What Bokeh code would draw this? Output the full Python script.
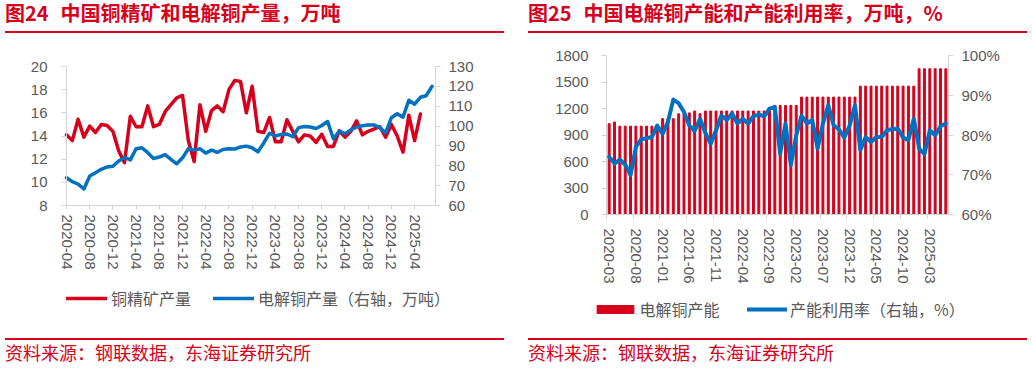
from bokeh.plotting import figure
from bokeh.models import (Range1d, LinearAxis, FixedTicker, Legend, LegendItem, Div,
                          PrintfTickFormatter)
from bokeh.layouts import row, column
from bokeh.embed import file_html
from bokeh.resources import INLINE

RED = "#d6001c"
BLUE = "#0070c0"
TXT = "#595959"
AXC = "#d4d4d4"
CJK = "Noto Sans CJK SC"
NUMF = "Liberation Sans"

# ---------------- data: chart 24 (monthly from 2020-04) ----------------
left_tick_labels = ["2020-04", "2020-08", "2020-12", "2021-04", "2021-08", "2021-12",
                    "2022-04", "2022-08", "2022-12", "2023-04", "2023-08", "2023-12",
                    "2024-04", "2024-08", "2024-12", "2025-04"]
concentrate_output = [14.1, 13.6, 15.45, 13.9, 14.85, 14.3, 15.0, 14.9, 14.4, 12.7,
                      11.7, 15.7, 14.8, 14.8, 16.6, 14.8, 15.0, 16.1, 16.7, 17.3,
                      17.5, 13.6, 11.8, 16.7, 14.4, 16.2, 16.6, 16.1, 18.0, 18.8,
                      18.7, 16.0, 18.3, 14.4, 14.3, 15.6, 13.5, 13.5, 15.4, 14.4,
                      13.5, 14.1, 14.0, 13.45, 14.15, 13.1, 13.1, 14.45, 13.9, 14.4,
                      15.3, 14.1, 14.4, 14.6, 14.8, 13.9, 15.0, 14.0, 12.6, 15.8,
                      13.6, 15.9]
cathode_output = [74.0, 72.0, 70.8, 68.3, 74.8, 76.5, 78.2, 79.4, 79.8, 82.4,
                  84.2, 83.0, 88.6, 89.1, 86.6, 83.7, 84.4, 85.6, 83.2, 81.0,
                  84.0, 88.6, 87.9, 88.6, 86.4, 87.9, 86.8, 88.2, 88.6, 88.4,
                  89.5, 89.9, 89.1, 87.0, 91.5, 96.4, 95.0, 95.8, 96.0, 94.6,
                  99.2, 99.8, 99.5, 98.8, 100.3, 102.3, 93.6, 97.4, 96.2, 98.0,
                  99.5, 100.2, 100.5, 100.6, 99.2, 96.6, 104.2, 106.2, 104.5, 113.0,
                  111.0, 114.5, 115.3, 120.0]

# ---------------- data: chart 25 (monthly from 2020-03) ----------------
right_tick_labels = ["2020-03", "2020-08", "2021-01", "2021-06", "2021-11", "2022-04",
                     "2022-09", "2023-02", "2023-07", "2023-12", "2024-05", "2024-10",
                     "2025-03"]
capacity = [1028, 1047, 1000, 1000, 1000, 1000, 1000, 1000, 1000, 1000,
            1085, 1085, 1085, 1140, 1140, 1150, 1171, 1141, 1171, 1171,
            1171, 1171, 1171, 1171, 1171, 1171, 1171, 1171, 1171, 1171,
            1171, 1235, 1235, 1235, 1235, 1235, 1329, 1329, 1329, 1329,
            1329, 1329, 1329, 1329, 1329, 1329, 1329, 1453, 1453, 1453,
            1453, 1453, 1453, 1453, 1453, 1453, 1453, 1453, 1650, 1650,
            1650, 1650, 1650, 1650]
utilization = [74.5, 72.8, 73.8, 72.6, 69.9, 77.0, 78.9, 79.2, 79.5, 82.4,
               80.3, 83.3, 88.9, 88.0, 85.8, 82.4, 81.0, 84.1, 80.5, 77.8,
               81.2, 84.9, 83.8, 85.4, 82.9, 84.1, 82.9, 84.7, 85.2, 84.7,
               86.6, 87.0, 75.3, 82.9, 72.4, 79.9, 84.9, 82.9, 83.8, 76.6,
               82.9, 87.5, 82.4, 81.4, 79.3, 82.4, 87.5, 76.2, 79.5, 78.2,
               79.5, 79.5, 81.2, 81.5, 81.6, 79.4, 78.7, 84.1, 76.6, 75.2,
               81.2, 79.9, 82.2, 82.9]

FIG_H = 302  # chart canvas height (page y 34 .. 336)


def span_range(lo, hi, px_lo, px_hi, size, flip=False):
    """Range whose [lo, hi] maps onto canvas pixels [px_lo, px_hi] of a canvas of `size`."""
    k = (hi - lo) / (px_hi - px_lo)
    if flip:  # vertical: px measured from the top
        return Range1d(lo - (size - px_hi) * k, hi + px_lo * k)
    return Range1d(lo - px_lo * k, hi + (size - px_hi) * k)


def style_axis(ax, standoff, tick_out=5):
    ax.axis_line_color = AXC
    ax.major_tick_line_color = AXC
    ax.minor_tick_line_color = None
    ax.major_tick_in = 0
    ax.major_tick_out = tick_out
    ax.major_label_text_font = NUMF
    ax.major_label_text_font_size = "15px"
    ax.major_label_text_color = TXT
    ax.major_label_standoff = standoff


def chart_fig(w, xr, yr):
    p = figure(width=w, height=FIG_H, x_range=xr, y_range=yr, output_backend="svg",
               toolbar_location=None, tools="", min_border=0,
               x_axis_location=None, y_axis_location=None)
    p.outline_line_color = None
    p.xgrid.visible = False
    p.ygrid.visible = False
    p.background_fill_color = "white"
    p.border_fill_color = "white"
    return p


def make_legend(items, loc, gw, gh, standoff, spacing=0):
    return Legend(items=items, orientation="horizontal", location=loc, glyph_width=gw,
                  glyph_height=gh, label_height=gh, label_standoff=standoff, spacing=spacing,
                  padding=0, margin=0, border_line_color=None, background_fill_alpha=0,
                  label_text_font=CJK, label_text_font_size="16px", label_text_color=TXT)


def title_div(w, num, txt, left, rule_left, rule_w):
    html = (f'<div style="position:relative;width:{w}px;height:34px;">'
            f'<div style="position:absolute;left:{left}px;top:3px;white-space:nowrap;'
            f'font-family:\'{CJK}\';font-weight:bold;font-size:20px;line-height:20px;color:{RED};">'
            f'{num}<span style="margin-left:12px">{txt}</span></div>'
            f'<div style="position:absolute;left:{rule_left}px;top:31px;width:{rule_w}px;height:2px;'
            f'background:{RED};"></div></div>')
    return Div(text=html, width=w, height=34, margin=(0, 0, 0, 0))


def footer_div(w, left, rule_left, rule_w):
    html = (f'<div style="position:relative;width:{w}px;height:32px;">'
            f'<div style="position:absolute;left:{rule_left}px;top:2px;width:{rule_w}px;height:2px;'
            f'background:{RED};"></div>'
            f'<div style="position:absolute;left:{left}px;top:7px;white-space:nowrap;'
            f'font-family:\'{CJK}\';font-size:18px;line-height:18px;color:{RED};">'
            f'资料来源：钢联数据，东海证券研究所</div></div>')
    return Div(text=html, width=w, height=32, margin=(0, 0, 0, 0))


# ---------------- chart 24 ----------------
W1 = 520
X1 = (0, 63.6)          # month index span of the plot area
F1 = (66, 435, 32, 171)  # plot-area pixels: left, right, top, bottom (canvas coords)
p1 = chart_fig(W1, span_range(X1[0], X1[1], F1[0], F1[1], W1),
               span_range(8, 20, F1[2], F1[3], FIG_H, flip=True))
p1.extra_y_ranges = {"r": span_range(60, 130, F1[2], F1[3], FIG_H, flip=True)}

ax_l1 = LinearAxis(ticker=FixedTicker(ticks=list(range(8, 21, 2))), fixed_location=X1[0],
                   bounds=(8, 20))
ax_r1 = LinearAxis(y_range_name="r", ticker=FixedTicker(ticks=list(range(60, 131, 10))),
                   fixed_location=X1[1], bounds=(60, 130))
xt1 = list(range(0, 61, 4))
ax_b1 = LinearAxis(ticker=FixedTicker(ticks=xt1), fixed_location=8, bounds=X1,
                   major_label_overrides={t: lab for t, lab in zip(xt1, left_tick_labels)},
                   major_label_orientation="vertical")
style_axis(ax_l1, 14)
style_axis(ax_r1, 8)
style_axis(ax_b1, 5, tick_out=4)
p1.add_layout(ax_l1, "left")
p1.add_layout(ax_r1, "right")
p1.add_layout(ax_b1, "below")

r_conc = p1.line(list(range(len(concentrate_output))), concentrate_output, color=RED,
                 line_width=3.5, line_join="round", line_cap="round")
r_cath = p1.line(list(range(len(cathode_output))), cathode_output, color=BLUE,
                 line_width=3.5, line_join="round", line_cap="round", y_range_name="r")
p1.add_layout(make_legend([LegendItem(label="铜精矿产量", renderers=[r_conc]),
                           LegendItem(label="电解铜产量（右轴，万吨）", renderers=[r_cath])],
                          (66, 26), 41, 20, 4, 22))

# ---------------- chart 25 ----------------
W2 = 512
X2 = (-0.5, 63.5)
F2 = (86, 428, 21, 180)
p2 = chart_fig(W2, span_range(X2[0], X2[1], F2[0], F2[1], W2),
               span_range(0, 1800, F2[2], F2[3], FIG_H, flip=True))
p2.extra_y_ranges = {"r": span_range(60, 100, F2[2], F2[3], FIG_H, flip=True)}

ax_l2 = LinearAxis(ticker=FixedTicker(ticks=list(range(0, 1801, 300))), fixed_location=X2[0],
                   bounds=(0, 1800))
ax_r2 = LinearAxis(y_range_name="r", ticker=FixedTicker(ticks=list(range(60, 101, 10))),
                   formatter=PrintfTickFormatter(format="%d%%"), fixed_location=X2[1],
                   bounds=(60, 100))
xt2 = list(range(0, 61, 5))
ax_b2 = LinearAxis(ticker=FixedTicker(ticks=xt2, minor_ticks=[t - 0.5 for t in xt2]),
                   fixed_location=0, bounds=X2,
                   major_label_overrides={t: lab for t, lab in zip(xt2, right_tick_labels)},
                   major_label_orientation="vertical")
style_axis(ax_l2, 13)
style_axis(ax_r2, 8)
style_axis(ax_b2, 10, tick_out=0)
ax_b2.major_tick_line_color = None
ax_b2.minor_tick_line_color = AXC
ax_b2.minor_tick_out = 4
ax_b2.minor_tick_in = 0
p2.add_layout(ax_l2, "left")
p2.add_layout(ax_r2, "right")
p2.add_layout(ax_b2, "below")

r_cap = p2.vbar(x=list(range(len(capacity))), top=capacity, width=0.36, color=RED)
r_util = p2.line(list(range(len(utilization))), utilization, color=BLUE, line_width=4,
                 line_join="round", line_cap="round", y_range_name="r")
p2.add_layout(make_legend([LegendItem(label="电解铜产能", renderers=[r_cap])],
                          (72.4, 15), 46, 10, 1))
p2.add_layout(make_legend([LegendItem(label="产能利用率（右轴，%）", renderers=[r_util])],
                          (227, 15), 40, 20, 3))

left_col = column(title_div(W1, "图24", "中国铜精矿和电解铜产量，万吨", 5, 5, 499), p1,
                  footer_div(W1, 5, 5, 499), spacing=0)
right_col = column(title_div(W2, "图25", "中国电解铜产能和产能利用率，万吨，%", 8, 8, 499), p2,
                   footer_div(W2, 8, 8, 499), spacing=0)
layout = row(left_col, right_col, spacing=0)

open("out.html", "w").write(file_html(layout, INLINE, "chart"))
